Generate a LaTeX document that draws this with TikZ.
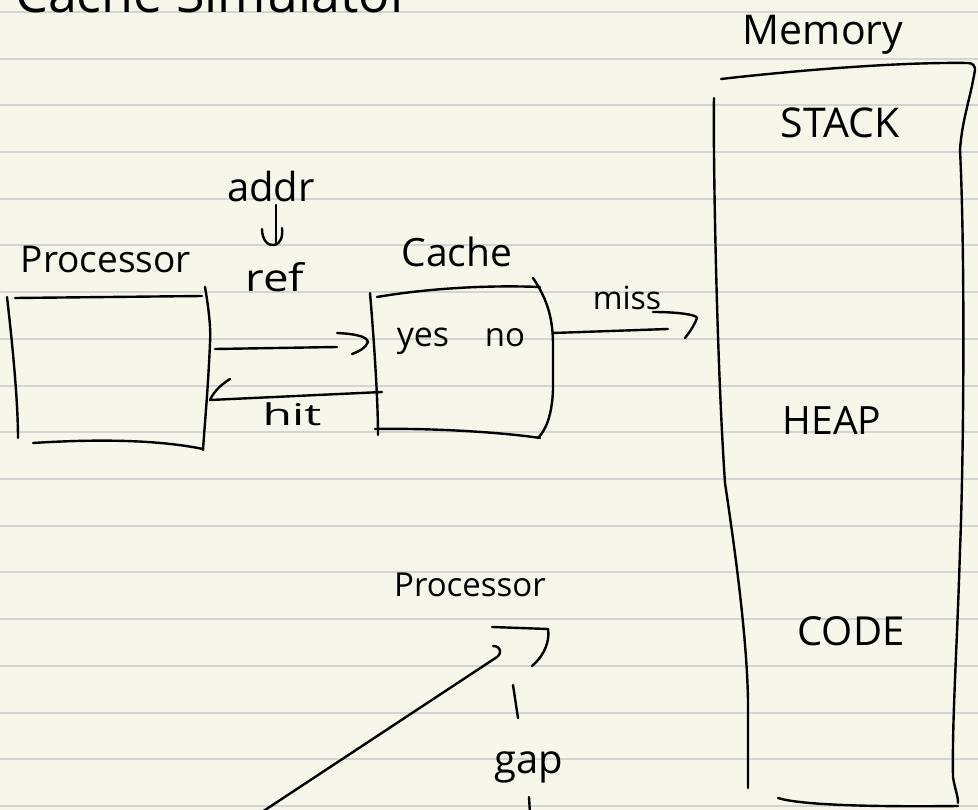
\documentclass[tikz,border=0pt]{standalone}
\usepackage{fontspec}
\setmainfont{Open Sans}
\definecolor{paper}{RGB}{248,246,234}
\definecolor{ruleline}{RGB}{212,212,212}
\begin{document}
\begin{tikzpicture}[x=1pt,y=-1pt,
  pen/.style={line width=2.4pt, line cap=round, line join=round, black},
  lbl/.style={inner sep=0pt, anchor=base},
  fs/.style={font=\fontsize{#1}{#1}\selectfont}]
\useasboundingbox (0,0) rectangle (978,810);
\clip (0,0) rectangle (978,810);
\fill[paper] (0,0) rectangle (978,810);
\foreach \i in {0,...,17}
  \draw[ruleline, line width=2pt] (0,{12+46.7*\i}) -- (978,{12+46.7*\i});

% title (cut at top)
\node[lbl, anchor=base west, fs=52] (title) at (15,13) {Cache Simulator};

% memory
\node[lbl, fs=41] (memlbl) at (823,45) {Memory};
\node[lbl, fs=41] (stack) at (840,138) {STACK};
\node[lbl, fs=39] (heap) at (832,435) {HEAP};
\node[lbl, fs=40] (code) at (851,645) {CODE};
\draw[pen] (721,79) .. controls (800,70) and (900,62) .. (968,63) .. controls (973,63) and (975,66) .. (975,70)
  .. controls (970,100) and (962,120) .. (960,150) .. controls (965,250) and (964,450) .. (960,550)
  .. controls (957,650) and (952,720) .. (953,777) .. controls (955,790) and (958,795) .. (958,803);
\draw[pen] (778,798) .. controls (800,805) and (870,807) .. (958,806);
\draw[pen] (714,98) .. controls (713,140) and (716,350) .. (725,483) .. controls (740,583) and (747,650) .. (748,700) -- (748,788);

% processor
\node[lbl, fs=37] (proclbl) at (106,273) {Processor};
\draw[pen] (15,298) -- (202,296);
\draw[pen] (7,297) .. controls (12,340) and (18,400) .. (18,438);
\draw[pen] (205,287) .. controls (209,310) and (211,330) .. (210,343) .. controls (208,390) and (205,420) .. (203,450);
\draw[pen] (33,443) .. controls (80,440) and (150,438) .. (203,449);

% addr -> ref
\node[lbl, fs=40] (addr) at (271,202) {addr};
\node[lbl, fs=38] (ref) at (275,292) {\scalebox{1.2}[1]{ref}};
\coordinate (addrA) at (276,205);
\coordinate (addrB) at (276,243);
\draw[pen] (addrA) -- (addrB);
\draw[pen] (262,229) .. controls (262,240) and (268,246) .. (274,245) .. controls (281,244) and (283,236) .. (282,228);

% cache
\node[lbl, fs=39] (cachelbl) at (457,267) {Cache};
\node[lbl, fs=34] (yes) at (423,347) {yes};
\node[lbl, fs=33] (no) at (505,347) {no};
\draw[pen] (377,297) .. controls (430,288) and (490,285) .. (540,287);
\draw[pen] (533,278) .. controls (548,300) and (553,320) .. (553,345) -- (553,390) .. controls (552,415) and (546,430) .. (538,438);
\draw[pen] (370,293) .. controls (374,340) and (378,400) .. (378,435);
\draw[pen] (375,429) .. controls (430,428) and (500,432) .. (540,438);

% request arrow
\coordinate (procOut) at (215,349);
\coordinate (reqEnd) at (337,347);
\draw[pen] (procOut) -- (reqEnd);
\draw[pen] (337,333) .. controls (360,334) and (368,338) .. (368,342) .. controls (366,348) and (358,352) .. (352,354);

% hit arrow
\coordinate (cacheOut) at (382,392);
\coordinate (procIn) at (210,400);
\draw[pen] (cacheOut) -- (procIn);
\draw[pen] (230,379) .. controls (220,385) and (213,393) .. (procIn);
\node[lbl, fs=30] (hit) at (292,426) {\scalebox{1.6}[1]{hit}};

% miss arrow
\coordinate (missA) at (553,333);
\coordinate (missB) at (668,329);
\draw[pen] (missA) -- (missB);
\draw[pen] (653,312) .. controls (680,312) and (697,315) .. (697,318) .. controls (694,326) and (689,333) .. (685,338);
\node[lbl, fs=32] (miss) at (627,310) {miss};

% bottom sketch
\node[lbl, fs=33] (proc2) at (470,596) {Processor};
\draw[pen] (492,627) -- (548,629) .. controls (550,640) and (545,655) .. (532,666);
\coordinate (diagA) at (262,812);
\coordinate (diagB) at (497,657);
\draw[pen] (diagA) -- (diagB) .. controls (503,652) and (500,646) .. (493,646);
\draw[pen] (513,685) -- (518,718);
\node[lbl, fs=40] (gap) at (529,773) {gap};
\draw[pen] (529,797) -- (530,814);
\end{tikzpicture}
\end{document}
